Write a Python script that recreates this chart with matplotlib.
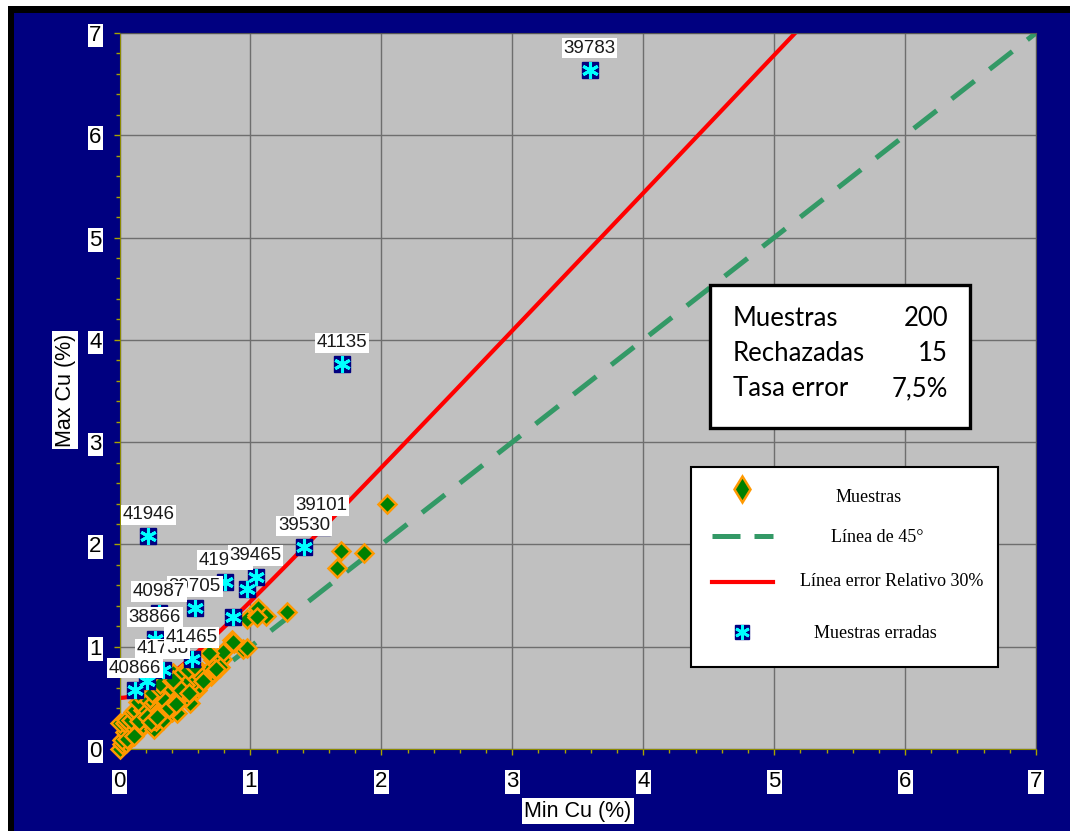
import numpy as np
import matplotlib
matplotlib.use("Agg")
import matplotlib.pyplot as plt
from matplotlib.patches import Rectangle
from matplotlib.lines import Line2D
from matplotlib.ticker import MultipleLocator

# Duplicate pairs: lower and higher Cu grade (%)
min_cu = [0.00, 0.02, 0.03, 0.05, 0.02, 0.07, 0.08, 0.04, 0.12, 0.16,
          0.13, 0.09, 0.00, 0.04, 0.09, 0.18, 0.18, 0.05, 0.09, 0.195,
          0.13, 0.26, 0.26, 0.28, 0.33, 0.23, 0.105, 0.12, 0.18, 0.195,
          0.28, 0.32, 0.33, 0.40, 0.44, 0.41, 0.26, 0.33, 0.245, 0.14,
          0.23, 0.54, 0.32, 0.23, 0.18, 0.37, 0.44, 0.46, 0.51, 0.14,
          0.245, 0.46, 0.32, 0.385, 0.59, 0.385, 0.47, 0.56, 0.60, 0.31,
          0.525, 0.40, 0.51, 0.46, 0.70, 0.41, 0.61, 0.63, 0.627, 0.69,
          0.69, 0.685, 0.76, 0.77, 0.715, 0.78, 0.685, 0.79, 0.68, 0.944,
          0.97, 0.856, 0.873, 0.87, 0.97, 1.05, 1.06, 1.12, 1.28, 1.66,
          1.69, 1.865, 2.04, 0.15, 0.21, 0.30, 0.36, 0.35, 0.50, 0.55,
          0.57, 0.66, 0.48, 0.52, 0.58, 0.50, 0.41, 0.47, 0.77, 0.63,
          0.06, 0.11, 0.24, 0.29, 0.38, 0.43, 0.53, 0.64, 0.74, 1.05]
max_cu = [0.00, 0.05, 0.10, 0.06, 0.09, 0.14, 0.12, 0.17, 0.17, 0.20,
          0.20, 0.20, 0.25, 0.25, 0.23, 0.22, 0.235, 0.28, 0.28, 0.30,
          0.33, 0.20, 0.28, 0.27, 0.28, 0.35, 0.365, 0.38, 0.38, 0.38,
          0.365, 0.365, 0.38, 0.365, 0.35, 0.41, 0.43, 0.45, 0.46, 0.46,
          0.46, 0.45, 0.50, 0.50, 0.53, 0.51, 0.48, 0.51, 0.51, 0.545,
          0.545, 0.545, 0.58, 0.58, 0.58, 0.61, 0.61, 0.61, 0.61, 0.64,
          0.64, 0.66, 0.66, 0.69, 0.71, 0.74, 0.74, 0.74, 0.756, 0.755,
          0.77, 0.77, 0.79, 0.87, 0.87, 0.877, 0.93, 0.95, 0.935, 0.98,
          0.99, 1.07, 1.04, 1.05, 1.27, 1.31, 1.375, 1.30, 1.34, 1.77,
          1.94, 1.92, 2.40, 0.27, 0.31, 0.33, 0.42, 0.47, 0.56, 0.70,
          0.66, 0.68, 0.74, 0.77, 0.80, 0.625, 0.675, 0.58, 0.80, 0.70,
          0.10, 0.13, 0.26, 0.31, 0.40, 0.44, 0.55, 0.66, 0.78, 1.29]

# Rejected duplicates (outside the 30 % relative-error hyperbola)
err_min = [3.59, 1.70, 0.22, 1.545, 0.805, 1.41, 1.04, 0.97, 0.576, 0.30,
           0.27, 0.87, 0.33, 0.55, 0.21, 0.12]
err_max = [6.64, 3.76, 2.08, 2.17, 1.635, 1.97, 1.68, 1.56, 1.38, 1.33,
           1.08, 1.29, 0.77, 0.88, 0.66, 0.58]
err_ids = ["39783", "41135", "41946", "39101", "41936", "39530", "39465", "",
           "39705", "40987", "38866", "", "41738", "41465", "", "40866"]

rel_error = 0.30
detection_floor = 0.5

summary_labels = ["Muestras", "Rechazadas", "Tasa error"]
summary_values = ["200", "15", "7,5%"]

legend_labels = ["Muestras", "Línea de 45°", "Línea error Relativo 30%",
                 "Muestras erradas"]

axis_ticks = list(range(0, 8))

W, H = 1070, 831
NAVY = "#000080"
GREEN = "#008000"
ORANGE = "#FF9900"
DASH_GREEN = "#339966"
NARROW = ["Liberation Sans Narrow", "Liberation Sans", "DejaVu Sans"]


def fx(px):
    return px / W


def fy(py):
    return 1 - py / H


fig = plt.figure(figsize=(W / 100, H / 100), dpi=100)
fig.patch.set_facecolor("white")
fig.add_artist(Rectangle((fx(8), 0), 1 - fx(8), fy(6), transform=fig.transFigure,
                         facecolor="black", edgecolor="none", zorder=0))
fig.add_artist(Rectangle((fx(13.5), 0), 1 - fx(13.5), fy(13), transform=fig.transFigure,
                         facecolor=NAVY, edgecolor="none", zorder=0))

ax = fig.add_axes([fx(119.5), fy(749), fx(1036) - fx(119.5), fy(33) - fy(749)])
ax.set_facecolor("#C0C0C0")
ax.set_xlim(0, 7)
ax.set_ylim(0, 7)
ax.set_xticks(axis_ticks)
ax.set_yticks(axis_ticks)
ax.xaxis.set_minor_locator(MultipleLocator(0.2))
ax.yaxis.set_minor_locator(MultipleLocator(0.2))
ax.grid(True, which="major", color="#6e6e6e", linewidth=1.0)
ax.set_axisbelow(True)
for side in ["top", "right"]:
    ax.spines[side].set_color("#555555")
for side in ["left", "bottom"]:
    ax.spines[side].set_color("#8c8a00")
ax.tick_params(which="both", direction="out", color="#a8a400", width=1)
ax.tick_params(which="major", length=4)
ax.tick_params(which="minor", length=3)
ax.tick_params(axis="x", which="major", pad=12)
ax.tick_params(axis="y", which="major", pad=9)
for lbl in ax.get_xticklabels() + ax.get_yticklabels():
    lbl.set_fontfamily(NARROW)
    lbl.set_fontsize(16)
    lbl.set_color("black")
    lbl.set_bbox(dict(facecolor="white", edgecolor="none", pad=1.0))

# Reference lines
xs = np.linspace(0, 7, 400)
ax.plot(xs, xs, color=DASH_GREEN, linewidth=3.6, dashes=(5.8, 3.8), zorder=2)
slope = (1 + rel_error / 2) / (1 - rel_error / 2)
ax.plot(xs, np.sqrt((slope * xs) ** 2 + detection_floor ** 2), color="red",
        linewidth=3.0, zorder=2)

# Accepted duplicates
ax.plot(min_cu, max_cu, linestyle="none", marker="D", markersize=9.5,
        markerfacecolor=GREEN, markeredgecolor=ORANGE, markeredgewidth=1.8,
        zorder=3, clip_on=False)

# Rejected duplicates
ax.plot(err_min, err_max, linestyle="none", marker="s", markersize=12,
        markerfacecolor=NAVY, markeredgecolor=NAVY, zorder=4)
ax.plot(err_min, err_max, linestyle="none", marker=(6, 2, 0), markersize=12,
        markeredgecolor="#00FFFF", markeredgewidth=2.2, zorder=4.5)

label_order = ["39783", "41135", "41946", "39101", "41936", "39530", "39465",
               "39705", "40987", "38866", "41738", "41465", "40866"]
for k, name in enumerate(label_order):
    i = err_ids.index(name)
    ax.annotate(name, (err_min[i], err_max[i]), xytext=(0, 15.5),
                textcoords="offset points", ha="center", va="center",
                fontsize=13.5, family=["Liberation Sans", "DejaVu Sans"],
                color="#1a1a1a",
                bbox=dict(facecolor="white", edgecolor="none", pad=1.2),
                zorder=6 + k)

# Axis titles
fig.text(fx(578), fy(811), "Min Cu (%)", ha="center", va="center", fontsize=15.5,
         family=NARROW, bbox=dict(facecolor="white", edgecolor="none", pad=1.5))
fig.text(fx(65), fy(390), "Max Cu (%)", ha="center", va="center", fontsize=15.5,
         family=NARROW, rotation=90,
         bbox=dict(facecolor="white", edgecolor="none", pad=1.5))

# Summary box
fig.add_artist(Rectangle((fx(710), fy(428)), fx(970) - fx(710), fy(285) - fy(428),
                         transform=fig.transFigure, facecolor="white",
                         edgecolor="black", linewidth=2.4, zorder=20))
for row, (lab, val) in enumerate(zip(summary_labels, summary_values)):
    yy = fy(318 + row * 35.5)
    fig.text(fx(733), yy, lab, ha="left", va="center", fontsize=18.5,
             family=["Lato", "DejaVu Sans"], zorder=21)
    fig.text(fx(948), yy, val, ha="right", va="center", fontsize=18.5,
             family=["Lato", "DejaVu Sans"], zorder=21)

# Legend panel
fig.add_artist(Rectangle((fx(691), fy(667)), fx(998) - fx(691), fy(467) - fy(667),
                         transform=fig.transFigure, facecolor="white",
                         edgecolor="black", linewidth=1.5, zorder=20))
leg_y = [489, 536, 582, 632]
txt_y = [497, 537, 582, 634]
txt_x = [869, 877, 892, 875]
fig.add_artist(Line2D([fx(742)], [fy(leg_y[0])], transform=fig.transFigure,
                      linestyle="none", marker="d", markersize=13,
                      markerfacecolor=GREEN, markeredgecolor=ORANGE,
                      markeredgewidth=1.8, zorder=21))
fig.add_artist(Line2D([fx(712), fx(773)], [fy(leg_y[1])] * 2,
                      transform=fig.transFigure, color=DASH_GREEN,
                      linewidth=3.6, dashes=(5.6, 2.8), zorder=21))
fig.add_artist(Line2D([fx(712), fx(773)], [fy(leg_y[2])] * 2,
                      transform=fig.transFigure, color="red", linewidth=3.0,
                      zorder=21))
fig.add_artist(Line2D([fx(742)], [fy(leg_y[3])], transform=fig.transFigure,
                      linestyle="none", marker="s", markersize=10.5,
                      markerfacecolor=NAVY, markeredgecolor=NAVY, zorder=21))
fig.add_artist(Line2D([fx(742)], [fy(leg_y[3])], transform=fig.transFigure,
                      linestyle="none", marker=(6, 2, 0), markersize=10.5,
                      markeredgecolor="#00FFFF", markeredgewidth=2.0, zorder=22))
for lab, tx, ty in zip(legend_labels, txt_x, txt_y):
    fig.text(fx(tx), fy(ty), lab, ha="center", va="center", fontsize=13,
             family=["Liberation Serif", "DejaVu Serif"], zorder=21)

fig.savefig("out.png", dpi=100)
